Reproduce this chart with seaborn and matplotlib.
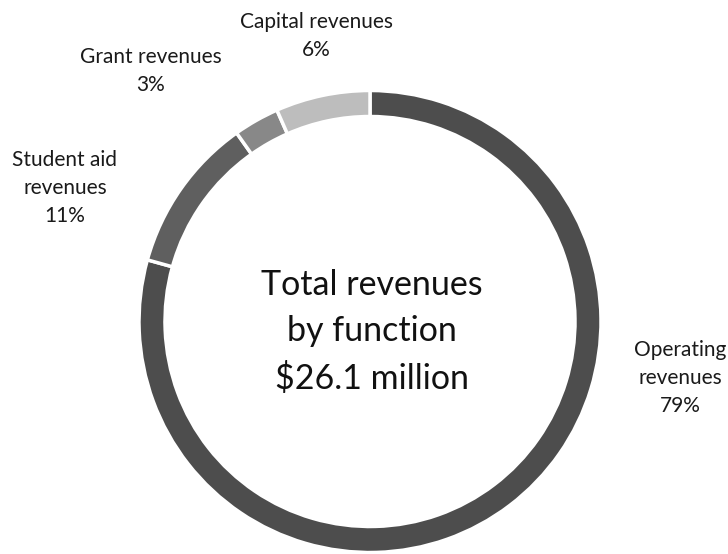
import matplotlib
matplotlib.use("Agg")
import matplotlib.pyplot as plt
import seaborn as sns

categories = ["Operating\nrevenues", "Student aid\nrevenues", "Grant revenues", "Capital revenues"]
values = [79.3, 10.9, 3.2, 6.6]
pct_labels = ["79%", "11%", "3%", "6%"]
colors = ["#4d4d4d", "#5f5f5f", "#888888", "#bdbdbd"]
center_text = "Total revenues\nby function\n$26.1 million"

sns.set_theme(style="white")
plt.rcParams['font.family'] = ['Lato', 'DejaVu Sans']

fig = plt.figure(figsize=(7.28, 5.54), dpi=100)
ax = fig.add_axes([0, 0, 1, 1])

cx, cy, r = 370, 554 - 321.5, 231
ax.pie(values, colors=colors, startangle=90, counterclock=False,
       center=(cx, cy), radius=r, frame=True,
       wedgeprops=dict(width=26, edgecolor="white", linewidth=2.5))
ax.set_xlim(0, 728)
ax.set_ylim(0, 554)
ax.set_aspect('equal')
ax.axis('off')

label_pos = [(680, 554 - 378), (65, 554 - 188), (151, 554 - 71), (316, 554 - 36)]
for cat, p, (x, y) in zip(categories, pct_labels, label_pos):
    ax.text(x, y, f"{cat}\n{p}", ha="center", va="center", fontsize=15,
            color="#1a1a1a", linespacing=1.5)

ax.text(372, 554 - 332, center_text, ha="center", va="center", fontsize=24.5,
        color="#111111", linespacing=1.55)

fig.savefig("out.png", dpi=100)
